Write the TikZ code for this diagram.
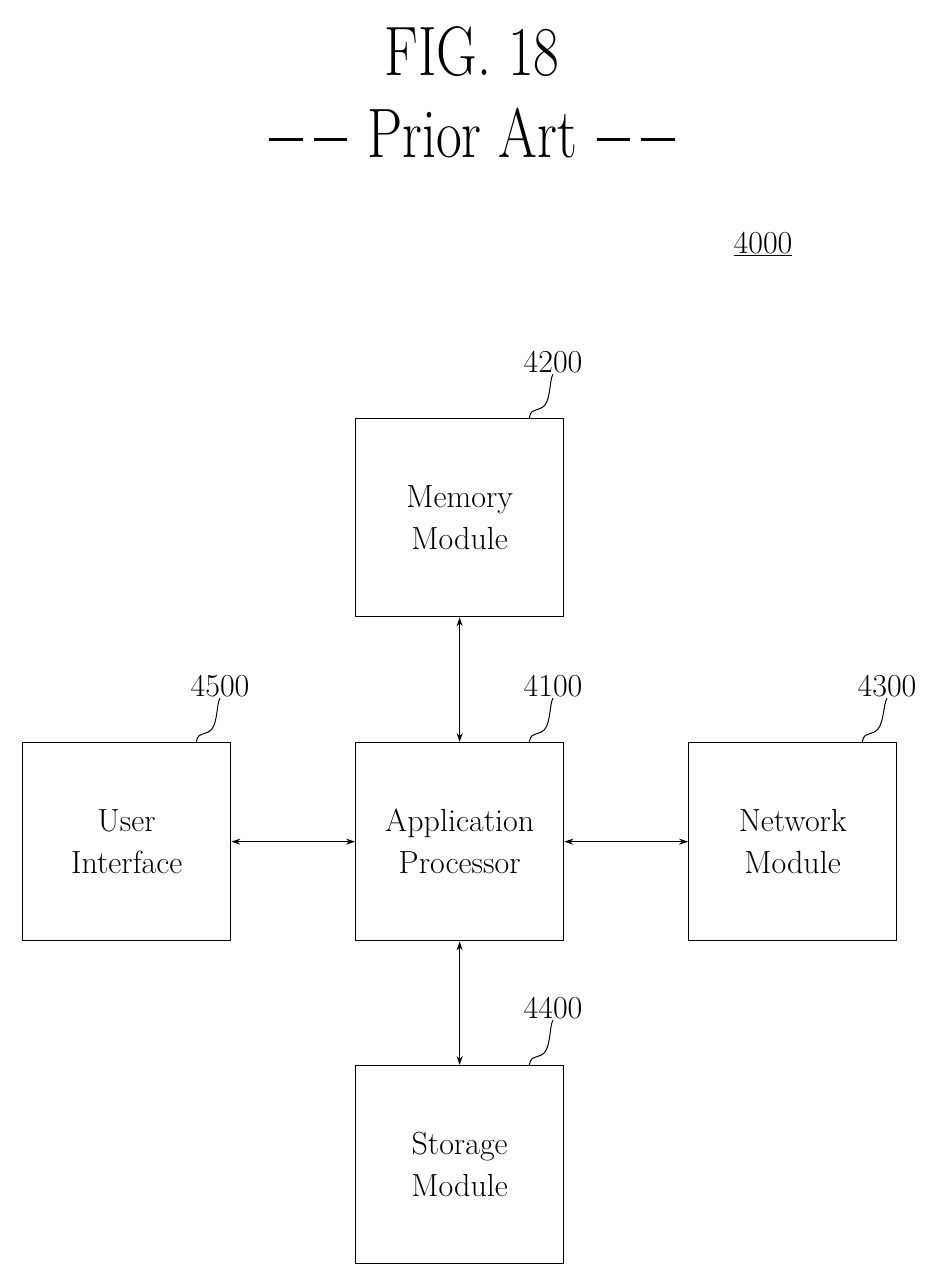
\documentclass[tikz,border=0pt]{standalone}
\usetikzlibrary{arrows.meta}
\begin{document}
\begin{tikzpicture}[x=1pt,y=-1pt,
 box/.style={draw,line width=1.3pt,minimum width=208pt,minimum height=198pt,anchor=north west,align=center,font=\fontsize{32}{42}\selectfont,inner sep=0pt},
 lbl/.style={font=\fontsize{32}{36}\selectfont,inner sep=1pt},
 conn/.style={line width=1pt,{Stealth[length=9pt,width=6pt]}-{Stealth[length=9pt,width=6pt]}},
 lead/.style={line width=1pt}]
\useasboundingbox (0,0) rectangle (941,1285);
\newcommand{\dsh}{\rule[0.24em]{0.6em}{0.045em}}
\node[font=\fontsize{70}{70}\selectfont] (t1) at (472,52) {\scalebox{0.8}[1]{FIG. 18}};
\node[font=\fontsize{70}{70}\selectfont] (t2) at (472,133) {\scalebox{0.8}[1]{\dsh\hspace{0.2em}\dsh\hspace{0.35em}Prior Art\hspace{0.35em}\dsh\hspace{0.2em}\dsh}};
\node[lbl] (l4000) at (763,244) {\underline{4000}};
\node[box] (mem) at (355,418) {Memory\\Module};
\node[box] (ap) at (355,742) {Application\\Processor};
\node[box] (ui) at (22,742) {User\\Interface};
\node[box] (nm) at (688,742) {Network\\Module};
\node[box] (sm) at (355,1065) {Storage\\Module};
\node[lbl] (l4200) at (553,362) {4200};
\node[lbl] (l4100) at (553,686) {4100};
\node[lbl] (l4500) at (220,686) {4500};
\node[lbl] (l4300) at (887,686) {4300};
\node[lbl] (l4400) at (553,1008) {4400};
\foreach \b/\l in {mem/l4200,ap/l4100,ui/l4500,nm/l4300,sm/l4400}{
 \draw[lead] (\b.north east) ++(-35,0) coordinate (s\b) .. controls +(2,-8) and +(-10,4) .. ++(12,-10) .. controls +(10,-4) and +(-4,6) .. (\l.south);
}
\draw[conn] (mem.south) -- (ap.north);
\draw[conn] (ap.south) -- (sm.north);
\draw[conn] (ui.east) -- (ap.west);
\draw[conn] (ap.east) -- (nm.west);
\end{tikzpicture}
\end{document}
